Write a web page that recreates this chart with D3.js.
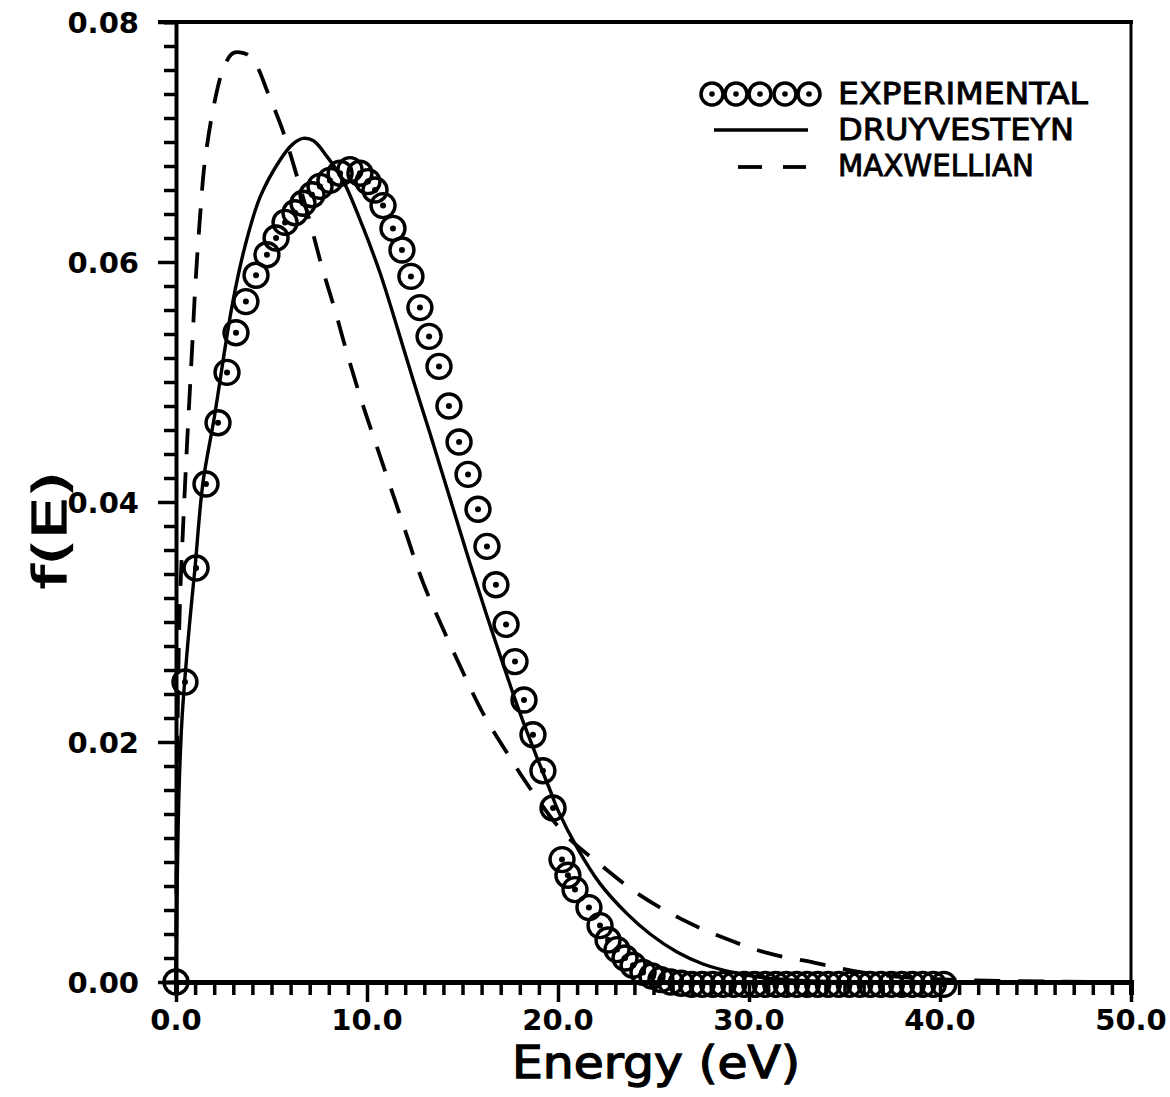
<!DOCTYPE html>
<html>
<head>
<meta charset="utf-8">
<script src="https://cdn.jsdelivr.net/npm/d3@7"></script>
<style>
  html, body { margin: 0; padding: 0; background: #fff; }
  svg { display: block; }
  text { font-family: "DejaVu Sans", sans-serif; fill: #000; }
</style>
</head>
<body>
<svg id="chart" width="1170" height="1097"></svg>
<script>
// ---------- data ----------
const expE = [0, 0.47, 1.05, 1.57, 2.20, 2.67, 3.14, 3.66, 4.19, 4.76, 5.24, 5.71, 6.23, 6.65, 7.12, 7.54,
  8.06, 8.59, 9.11, 9.63, 10.05, 10.42, 10.84, 11.36, 11.83, 12.30, 12.77, 13.25, 13.77, 14.29, 14.82,
  15.29, 15.81, 16.28, 16.75, 17.28, 17.75, 18.22, 18.69, 19.21, 19.74, 20.21, 20.52, 20.89, 21.62,
  22.20, 22.62, 23.09, 23.51, 23.93, 24.45, 24.92, 25.39,
  25.9, 26.45, 27.0, 27.55, 28.1, 28.65, 29.2, 29.75, 30.3, 30.85, 31.4, 31.95, 32.5, 33.05, 33.6,
  34.15, 34.7, 35.25, 35.8, 36.35, 36.9, 37.45, 38.0, 38.55, 39.1, 39.65, 40.2];
const expF = [0, 0.0250, 0.0345, 0.0415, 0.0466, 0.0508, 0.0541, 0.0567, 0.0589, 0.0606, 0.0620, 0.0633,
  0.0641, 0.0649, 0.0656, 0.0663, 0.0668, 0.0674, 0.0677, 0.0674, 0.0667, 0.0660, 0.0647, 0.0628, 0.0610,
  0.0588, 0.0562, 0.0538, 0.0513, 0.0480, 0.0450, 0.0423, 0.0394, 0.0363, 0.0331, 0.0298, 0.0267, 0.0235,
  0.0206, 0.0176, 0.0145, 0.0102, 0.0089, 0.0077, 0.0062, 0.0047, 0.0035, 0.0027, 0.0020, 0.0014, 0.0008,
  0.0005, 0.0002,
  0.0000, -0.0001, -0.0002, -0.0002, -0.0002, -0.0002, -0.0002, -0.0002, -0.0002, -0.0002, -0.0002,
  -0.0002, -0.0002, -0.0002, -0.0002, -0.0002, -0.0002, -0.0002, -0.0002, -0.0002, -0.0002, -0.0002,
  -0.0002, -0.0002, -0.0002, -0.0002, -0.0002];

const druyE = [0, 0.05, 0.16, 0.31, 0.47, 0.73, 1.0, 1.41, 2.0, 2.93, 3.61, 4.40, 5.45, 6.1, 6.65, 7.2,
  7.9, 8.74, 9.79, 10.68, 11.57, 12.41, 13.3, 14.5, 15.39, 16.28, 17.12, 18.01, 18.9, 19.58,
  20.0, 21.0, 22.2, 23.61, 24.82, 26.23, 27.59, 29.16, 30.58, 33.0, 36.0];
const druyF = [0, 0.0068, 0.0160, 0.0218, 0.0254, 0.0302, 0.0346, 0.0416, 0.0470, 0.0563, 0.0613, 0.0654,
  0.0685, 0.0698, 0.0703, 0.0701, 0.0688, 0.0668, 0.0629, 0.0591, 0.0546, 0.0502, 0.0457, 0.0395, 0.0349,
  0.0305, 0.0265, 0.0224, 0.0187, 0.0160, 0.0143, 0.0112, 0.0082, 0.0057, 0.0040, 0.0025, 0.0015,
  0.0008, 0.0004, 0.0001, 0.0];

const maxE = [0, 0.1, 0.21, 0.37, 0.58, 0.84, 1.0, 1.26, 1.52, 2.04, 2.46, 2.98, 3.72, 4.24, 4.76, 5.6, 6.34,
  7.02, 7.64, 8.32, 9.01, 9.74, 10.52, 11.73, 12.93, 13.93, 14.97, 16.07, 17.33, 18.69, 20.37, 22.2, 24.14,
  26.39, 28.64, 31.0, 33.46, 35.92, 38.95, 43.1, 48.9];
const maxF = [0, 0.0235, 0.0318, 0.0379, 0.0449, 0.0527, 0.0577, 0.0638, 0.0685, 0.0735, 0.0760, 0.0774,
  0.0773, 0.0763, 0.0743, 0.0709, 0.0671, 0.0633, 0.0596, 0.0560, 0.0521, 0.0483, 0.0446, 0.0389, 0.0333,
  0.0296, 0.0260, 0.0224, 0.0191, 0.0158, 0.0123, 0.0098, 0.0074, 0.0053, 0.0037, 0.0024, 0.0016, 0.0008,
  0.0003, 0.0001, 0.0];

const xTickValues = [0, 10, 20, 30, 40, 50];
const xTickLabels = ["0.0", "10.0", "20.0", "30.0", "40.0", "50.0"];
const yTickValues = [0, 0.02, 0.04, 0.06, 0.08];
const yTickLabels = ["0.00", "0.02", "0.04", "0.06", "0.08"];
const legendLabels = ["EXPERIMENTAL", "DRUYVESTEYN", "MAXWELLIAN"];
const xTitle = "Energy (eV)";
const yTitle = "f(E)";

// ---------- layout ----------
const svg = d3.select("#chart");
const L = 176, R = 1131, T = 22, B = 982;
const x = d3.scaleLinear().domain([0, 50]).range([L, R]);
const y = d3.scaleLinear().domain([0, 0.08]).range([B, T]);

const g = svg.append("g");

// frame
g.append("line").attr("x1", R).attr("x2", R).attr("y1", T).attr("y2", B + 12)
  .attr("stroke", "#000").attr("stroke-width", 3);
g.append("line").attr("x1", L - 18).attr("x2", R + 2).attr("y1", T).attr("y2", T)
  .attr("stroke", "#000").attr("stroke-width", 4);

// x axis
const xAxis = d3.axisBottom(x).tickValues(d3.range(0, 51, 1)).tickSize(13).tickFormat("");
const xa = g.append("g").attr("transform", `translate(0,${B})`).call(xAxis);
xa.select(".domain").attr("stroke-width", 5);
xa.selectAll(".tick line").attr("stroke-width", 3.5)
  .attr("y2", d => (d % 10 === 0 ? 20 : 13));
xTickValues.forEach((v, i) => {
  g.append("text").attr("x", x(v)).attr("y", 1030)
    .attr("text-anchor", "middle").attr("font-size", 29).attr("font-weight", "bold")
    .text(xTickLabels[i]);
});

// y axis
const yAxis = d3.axisLeft(y).tickValues(d3.range(0, 41, 1).map(i => i * 0.002)).tickSize(12).tickFormat("");
const ya = g.append("g").attr("transform", `translate(${L},0)`).call(yAxis);
ya.select(".domain").attr("stroke-width", 4);
ya.selectAll(".tick line").attr("stroke-width", 3.5)
  .attr("x2", (d, i) => (i % 10 === 0 ? -18 : -12));
yTickValues.forEach((v, i) => {
  g.append("text").attr("x", 139).attr("y", y(v) + 11)
    .attr("text-anchor", "end").attr("font-size", 29).attr("font-weight", "bold")
    .text(yTickLabels[i]);
});

// titles
g.append("text").attr("x", 512).attr("y", 1078).attr("font-size", 44)
  .attr("stroke", "#000").attr("stroke-width", 1.3)
  .attr("textLength", 288).attr("lengthAdjust", "spacingAndGlyphs").text(xTitle);
g.append("text").attr("transform", "translate(66,530) rotate(-90)")
  .attr("text-anchor", "middle").attr("font-size", 46)
  .attr("stroke", "#000").attr("stroke-width", 1.3)
  .attr("textLength", 118).attr("lengthAdjust", "spacingAndGlyphs")
  .text(yTitle);

// curves
const lineGen = d3.line().x(d => x(d[0])).y(d => y(d[1])).curve(d3.curveCatmullRom.alpha(0.5));
const druy = druyE.map((e, i) => [e, druyF[i]]);
const maxw = maxE.map((e, i) => [e, maxF[i]]);
g.append("path").datum(druy).attr("d", lineGen)
  .attr("fill", "none").attr("stroke", "#000").attr("stroke-width", 3.4);
g.append("path").datum(maxw).attr("d", lineGen)
  .attr("fill", "none").attr("stroke", "#000").attr("stroke-width", 3.8)
  .attr("stroke-dasharray", "26,18");

// experimental markers
const exp = expE.map((e, i) => [e, expF[i]]);
const mk = g.append("g");
mk.selectAll("circle.o").data(exp).enter().append("circle")
  .attr("cx", d => x(d[0])).attr("cy", d => y(d[1])).attr("r", 12)
  .attr("fill", "none").attr("stroke", "#000").attr("stroke-width", 3.4);
mk.selectAll("circle.d").data(exp).enter().append("circle")
  .attr("cx", d => x(d[0])).attr("cy", d => y(d[1])).attr("r", 3).attr("fill", "#000");

// legend
const lg = g.append("g");
const legCx = [712, 736, 760, 785, 809];
legCx.forEach(cx => {
  lg.append("circle").attr("cx", cx).attr("cy", 94).attr("r", 11)
    .attr("fill", "none").attr("stroke", "#000").attr("stroke-width", 3.5);
  lg.append("circle").attr("cx", cx).attr("cy", 94).attr("r", 2.8).attr("fill", "#000");
});
lg.append("line").attr("x1", 714).attr("x2", 808).attr("y1", 130).attr("y2", 130)
  .attr("stroke", "#000").attr("stroke-width", 3.5);
lg.append("line").attr("x1", 738).attr("x2", 762).attr("y1", 167).attr("y2", 167)
  .attr("stroke", "#000").attr("stroke-width", 3.8);
lg.append("line").attr("x1", 783).attr("x2", 806).attr("y1", 167).attr("y2", 167)
  .attr("stroke", "#000").attr("stroke-width", 3.8);
const legY = [104, 140, 176];
const legW = [250, 236, 196];
legendLabels.forEach((t, i) => {
  lg.append("text").attr("x", 838).attr("y", legY[i]).attr("font-size", 30)
    .attr("stroke", "#000").attr("stroke-width", 0.9)
    .attr("textLength", legW[i]).attr("lengthAdjust", "spacingAndGlyphs")
    .text(t);
});
</script>
</body>
</html>
